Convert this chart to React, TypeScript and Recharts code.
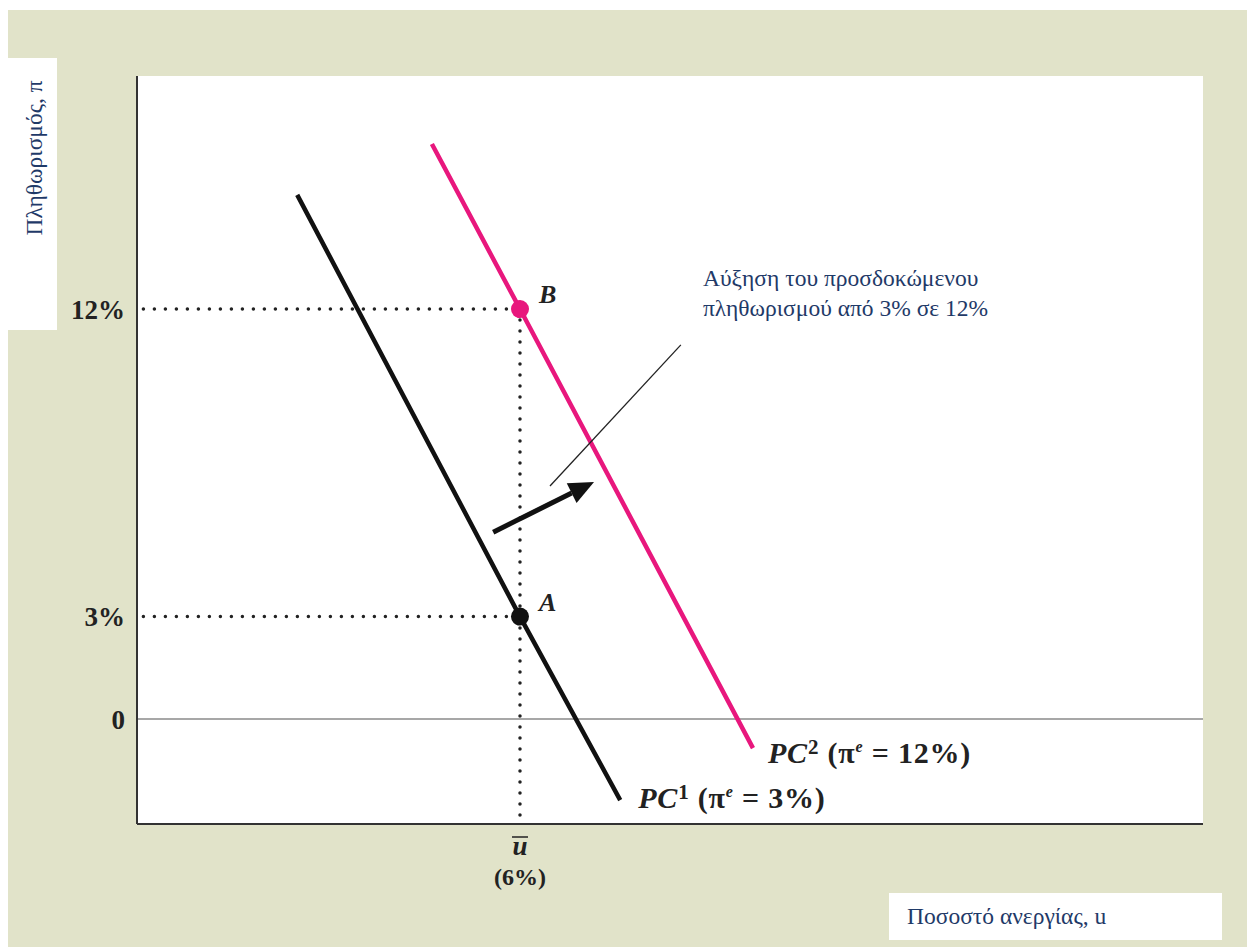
import {
  LineChart,
  Line,
  XAxis,
  YAxis,
  CartesianGrid,
  ReferenceLine,
  ReferenceDot,
} from 'recharts';

// Phillips curves (unemployment u %, inflation π %)
const pc1Points = [
  { u: 2.51, pi: 15.34 },
  { u: 6, pi: 3 },
  { u: 7.57, pi: -2.37 },
];
const pc2Points = [
  { u: 4.62, pi: 16.83 },
  { u: 6, pi: 12 },
  { u: 9.65, pi: -0.85 },
];

const pointA = { u: 6, pi: 3, label: 'A' };
const pointB = { u: 6, pi: 12, label: 'B' };

const shiftArrow = [
  { u: 5.58, pi: 5.47 },
  { u: 7.16, pi: 6.94 },
];
const leaderLine = [
  { u: 6.47, pi: 6.82 },
  { u: 8.52, pi: 10.95 },
];

const yTicks = [0, 3, 12];
const yTickLabels: Record<number, string> = { 0: '0', 3: '3%', 12: '12%' };
const xTicks = [6];

const yTitle = 'Πληθωρισμός, π';
const xTitle = 'Ποσοστό ανεργίας, u';
const noteLines = ['Αύξηση του προσδοκώμενου', 'πληθωρισμού από 3% σε 12%'];

const beige = '#E1E3C9';
const navy = '#1F3A68';
const pink = '#E8177D';
const serif = '"Liberation Serif", "DejaVu Serif", serif';

const dotted = {
  stroke: '#222',
  strokeWidth: 3.5,
  strokeDasharray: '0 11',
  strokeLinecap: 'round' as const,
};

const XTick = (props) => {
  const { x, y } = props;
  return (
    <g>
      <text x={x} y={y + 23} textAnchor="middle" fontFamily={serif} fontWeight={700}
        fontStyle="italic" fontSize={27} fill="#222">u</text>
      <line x1={x - 8} x2={x + 8} y1={y + 5} y2={y + 5} stroke="#222" strokeWidth={1.5} />
      <text x={x} y={y + 53} textAnchor="middle" fontFamily={serif} fontWeight={700}
        fontSize={24} fill="#222">(6%)</text>
    </g>
  );
};

const pointShape = (color: string, label: string) => (props) => {
  const { cx, cy } = props;
  return (
    <g>
      <circle cx={cx} cy={cy} r={9} fill={color} />
      <text x={cx + 19} y={cy - 6} fontFamily={serif} fontWeight={700} fontStyle="italic"
        fontSize={26} fill="#222">{label}</text>
    </g>
  );
};

const curveLabel = (num: string, pct: string, dx: number, dy: number) => (props) => {
  const { cx, cy } = props;
  return (
    <text x={cx + dx} y={cy + dy} fontFamily={serif} fontWeight={700} fontSize={30}
      letterSpacing={0.8} fill="#222">
      <tspan fontStyle="italic">PC</tspan>
      <tspan fontSize={21} dy={-9}>{num}</tspan>
      <tspan dy={9}> (π</tspan>
      <tspan fontSize={16} fontStyle="italic" dy={-11}>e</tspan>
      <tspan dy={11}> = {pct})</tspan>
    </text>
  );
};

const arrowShape = (props) => {
  const { x1, y1, x2, y2 } = props;
  const ang = Math.atan2(y2 - y1, x2 - x1);
  const len = 25;
  const half = 11;
  const bx = x2 - len * Math.cos(ang);
  const by = y2 - len * Math.sin(ang);
  const px = -Math.sin(ang) * half;
  const py = Math.cos(ang) * half;
  return (
    <g>
      <line x1={x1} y1={y1} x2={bx} y2={by} stroke="#111" strokeWidth={5} />
      <polygon points={`${x2},${y2} ${bx + px},${by + py} ${bx - px},${by - py}`} fill="#111" />
    </g>
  );
};

const App = () => {
  return (
    <div style={{ position: 'fixed', left: 8, top: 10, width: 1239, height: 937, background: beige }}>
      <LineChart
        width={1239}
        height={937}
        margin={{ top: 66, right: 44, bottom: 63, left: 69 }}
      >
        <CartesianGrid horizontal={false} vertical={false} fill="#fff" stroke="none" />
        <XAxis
          type="number"
          dataKey="u"
          domain={[0, 16.7]}
          ticks={xTicks}
          height={60}
          tickLine={false}
          axisLine={{ stroke: '#333', strokeWidth: 2 }}
          tick={<XTick />}
          allowDataOverflow
        />
        <YAxis
          type="number"
          dataKey="pi"
          domain={[-3.07, 18.82]}
          ticks={yTicks}
          width={60}
          tickLine={false}
          tickSize={0}
          tickMargin={12}
          tickFormatter={(v) => yTickLabels[v]}
          axisLine={{ stroke: '#333', strokeWidth: 2 }}
          tick={{ fontFamily: serif, fontWeight: 700, fontSize: 27, fill: '#222' }}
          allowDataOverflow
        />
        <ReferenceLine y={0} stroke="#8a8a8a" strokeWidth={1.5} />
        <ReferenceLine segment={[{ x: 0.1, y: pointB.pi }, { x: pointB.u, y: pointB.pi }]} {...dotted} />
        <ReferenceLine segment={[{ x: 0.1, y: pointA.pi }, { x: pointA.u, y: pointA.pi }]} {...dotted} />
        <ReferenceLine segment={[{ x: pointB.u, y: pointB.pi }, { x: pointB.u, y: -3.07 }]} {...dotted} />
        <Line data={pc1Points} dataKey="pi" stroke="#111" strokeWidth={4.5} dot={false}
          isAnimationActive={false} />
        <Line data={pc2Points} dataKey="pi" stroke={pink} strokeWidth={4.5} dot={false}
          isAnimationActive={false} />
        <ReferenceLine
          segment={[{ x: leaderLine[0].u, y: leaderLine[0].pi }, { x: leaderLine[1].u, y: leaderLine[1].pi }]}
          stroke="#222"
          strokeWidth={1.3}
        />
        <ReferenceLine
          segment={[{ x: shiftArrow[0].u, y: shiftArrow[0].pi }, { x: shiftArrow[1].u, y: shiftArrow[1].pi }]}
          shape={arrowShape}
        />
        <ReferenceDot x={pointA.u} y={pointA.pi} r={9} shape={pointShape('#111', pointA.label)} />
        <ReferenceDot x={pointB.u} y={pointB.pi} r={9} shape={pointShape(pink, pointB.label)} />
        <ReferenceDot x={pc1Points[2].u} y={pc1Points[2].pi} r={0} shape={curveLabel('1', '3%', 18, 8)} />
        <ReferenceDot x={pc2Points[2].u} y={pc2Points[2].pi} r={0} shape={curveLabel('2', '12%', 15, 15)} />
      </LineChart>

      <div style={{ position: 'absolute', left: 0, top: 48, width: 49, height: 272, background: '#fff' }}>
        <div style={{
          position: 'absolute', left: 26, top: 100, transform: 'translate(-50%, -50%) rotate(-90deg)',
          whiteSpace: 'nowrap', fontFamily: serif, fontSize: 23.5, color: navy,
        }}>{yTitle}</div>
      </div>

      <div style={{
        position: 'absolute', left: 695, top: 253, fontFamily: serif, fontSize: 23.5, color: navy,
        lineHeight: '30px', whiteSpace: 'nowrap',
      }}>
        {noteLines.map((t) => <div key={t}>{t}</div>)}
      </div>

      <div style={{
        position: 'absolute', left: 881, top: 883, width: 333, height: 47, background: '#fff',
        fontFamily: serif, fontSize: 23.5, color: navy, lineHeight: '47px', paddingLeft: 18,
        boxSizing: 'border-box',
      }}>{xTitle}</div>
    </div>
  );
};

export default App;
